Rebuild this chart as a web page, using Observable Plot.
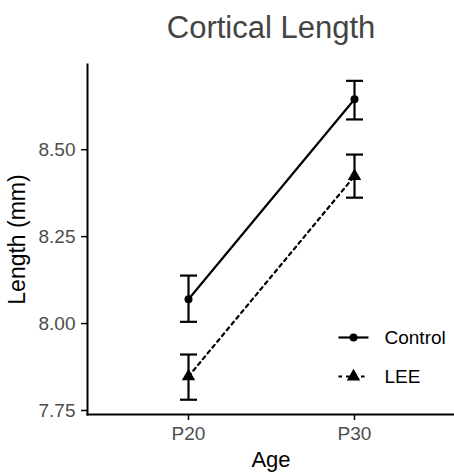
<!DOCTYPE html>
<html>
<head>
<meta charset="utf-8">
<script src="https://cdn.jsdelivr.net/npm/d3@7"></script>
<script src="https://cdn.jsdelivr.net/npm/@observablehq/plot@0.6"></script>
<style>
  html, body { margin: 0; padding: 0; background: #fff; }
  #chart { width: 454px; height: 473px; }
</style>
</head>
<body>
<div id="chart"></div>
<script>
// ---- data ----
const ages = ["P20", "P30"];
const groups = ["Control", "LEE"];
const controlMean = [8.07, 8.645];
const controlLow = [8.005, 8.587];
const controlHigh = [8.138, 8.698];
const leeMean = [7.848, 8.424];
const leeLow = [7.781, 8.362];
const leeHigh = [7.911, 8.486];
const yTicks = [7.75, 8.0, 8.25, 8.5];
const titleText = "Cortical Length";
const xLabel = "Age";
const yLabel = "Length (mm)";

// long table built from the arrays
const rows = [];
ages.forEach((a, i) => {
  rows.push({age: a, group: groups[0], mean: controlMean[i], lo: controlLow[i], hi: controlHigh[i]});
  rows.push({age: a, group: groups[1], mean: leeMean[i], lo: leeLow[i], hi: leeHigh[i]});
});

// custom symbol: horizontal cap for error bars
const capSymbol = {draw(ctx) { ctx.moveTo(-8.5, 0); ctx.lineTo(8.5, 0); }};
// custom symbol: legend key line
const keySymbol = {draw(ctx) { ctx.moveTo(-15, 0); ctx.lineTo(15, 0); }};

const dash = {Control: null, LEE: "3.5,4"};
const shape = {Control: "circle", LEE: "triangle"};

const legendMarks = groups.flatMap((g, i) => {
  const dy = -77 + i * 39;
  return [
    Plot.dot([g], {frameAnchor: "bottom-right", dx: -101, dy, symbol: keySymbol, stroke: "black", strokeWidth: 2.2, strokeDasharray: dash[g], fill: "none"}),
    Plot.dot([g], {frameAnchor: "bottom-right", dx: -101, dy, symbol: shape[g], r: g === "LEE" ? 5 : 4, fill: "black", stroke: "none"}),
    Plot.text([g], {frameAnchor: "bottom-right", dx: -70, dy, text: d => d, textAnchor: "start", lineAnchor: "middle", fontSize: 19, fill: "#000"})
  ];
});

const chart = Plot.plot({
  width: 454,
  height: 473,
  marginTop: 64,
  marginBottom: 59,
  marginLeft: 87,
  marginRight: 0,
  style: {fontFamily: "'Liberation Sans', Arial, sans-serif", fontSize: "19px", background: "white"},
  x: {type: "point", domain: ages, padding: 0.6, align: 0.5},
  y: {domain: [7.7385, 8.745]},
  marks: [
    Plot.frame({anchor: "left", stroke: "black", strokeWidth: 2}),
    Plot.frame({anchor: "bottom", stroke: "black", strokeWidth: 2}),
    Plot.axisY({ticks: yTicks, tickFormat: d3.format(".2f"), tickSize: 6, tickPadding: 6, stroke: "black", strokeWidth: 1.5, fill: "#4d4d4d", fontSize: 19, label: null}),
    Plot.axisX({tickSize: 6, tickPadding: 6, stroke: "black", strokeWidth: 1.5, fill: "#4d4d4d", fontSize: 19, label: null}),
    Plot.text([yLabel], {frameAnchor: "left", dx: -70, rotate: -90, textAnchor: "middle", lineAnchor: "middle", fontSize: 23, fill: "#000"}),
    Plot.text([xLabel], {frameAnchor: "bottom", dy: 45, textAnchor: "middle", lineAnchor: "middle", fontSize: 22, fill: "#000"}),
    Plot.text([titleText], {frameAnchor: "top", dy: -36, textAnchor: "middle", lineAnchor: "middle", fontSize: 31, fill: "#444"}),
    Plot.line(rows.filter(d => d.group === "Control"), {x: "age", y: "mean", stroke: "black", strokeWidth: 2.2}),
    Plot.line(rows.filter(d => d.group === "LEE"), {x: "age", y: "mean", stroke: "black", strokeWidth: 2.2, strokeDasharray: "3.5,4"}),
    Plot.ruleX(rows, {x: "age", y1: "lo", y2: "hi", stroke: "black", strokeWidth: 2.2}),
    Plot.dot(rows, {x: "age", y: "lo", symbol: capSymbol, stroke: "black", strokeWidth: 2.2, fill: "none"}),
    Plot.dot(rows, {x: "age", y: "hi", symbol: capSymbol, stroke: "black", strokeWidth: 2.2, fill: "none"}),
    Plot.dot(rows.filter(d => d.group === "Control"), {x: "age", y: "mean", r: 4, fill: "black"}),
    Plot.dot(rows.filter(d => d.group === "LEE"), {x: "age", y: "mean", symbol: "triangle", r: 5, fill: "black"}),
    ...legendMarks
  ]
});
document.getElementById("chart").appendChild(chart);
</script>
</body>
</html>
